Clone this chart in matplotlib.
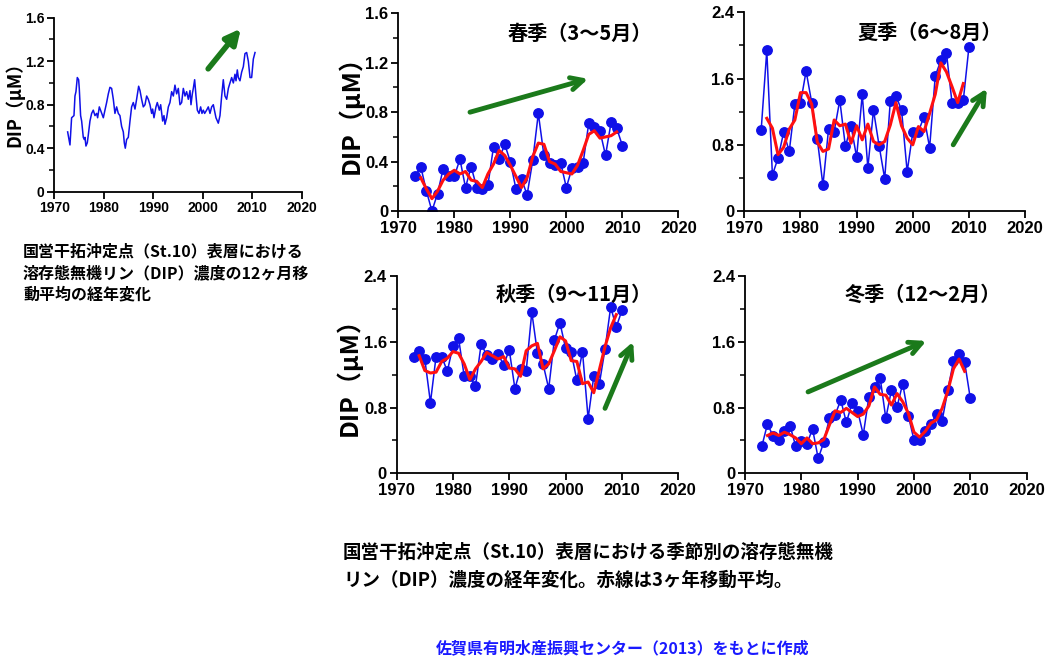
import matplotlib
matplotlib.use("Agg")
import matplotlib.pyplot as plt
from matplotlib.ticker import MultipleLocator

plt.rcParams['font.family'] = ['Liberation Sans', 'Noto Sans CJK JP', 'DejaVu Sans']
plt.rcParams['font.weight'] = 'bold'
JP = ['Noto Sans CJK JP', 'DejaVu Sans']

# 12-month running mean of DIP at St.10 (surface)
monthly_t = [1972.70, 1973.17, 1973.50, 1973.98, 1974.18, 1974.38, 1974.65, 1974.92,
             1975.05, 1975.32, 1975.53, 1975.86, 1976.06, 1976.20, 1976.40, 1976.67,
             1976.87, 1977.21, 1977.55, 1977.88, 1978.22, 1978.56, 1978.76, 1979.10,
             1979.43, 1979.91, 1980.24, 1980.58, 1980.92, 1981.25, 1981.59, 1981.93,
             1982.26, 1982.60, 1982.94, 1983.27, 1983.61, 1983.95, 1984.15, 1984.35,
             1984.62, 1984.96, 1985.30, 1985.63, 1985.97, 1986.31, 1986.64, 1987.05,
             1987.32, 1987.65, 1987.99, 1988.33, 1988.67, 1989.00, 1989.34, 1989.68,
             1989.88, 1990.15, 1990.55, 1990.82, 1991.23, 1991.50, 1991.90, 1992.17,
             1992.37, 1992.71, 1993.05, 1993.38, 1993.72, 1994.06, 1994.39, 1994.73,
             1995.07, 1995.40, 1995.74, 1996.08, 1996.42, 1996.75, 1997.09, 1997.43,
             1997.63, 1997.90, 1998.10, 1998.37, 1998.64, 1998.91, 1999.25, 1999.58,
             1999.85, 2000.12, 2000.39, 2000.79, 2001.13, 2001.47, 2001.81, 2002.14,
             2002.68, 2003.15, 2003.49, 2003.83, 2004.16, 2004.50, 2004.84, 2005.18,
             2005.51, 2005.85, 2006.19, 2006.52, 2006.73, 2006.99, 2007.20, 2007.53,
             2007.87, 2008.21, 2008.54, 2008.88, 2009.22, 2009.56, 2009.89, 2010.23,
             2010.57]
monthly_v = [0.55, 0.43, 0.68, 0.70, 0.88, 0.92, 1.05, 1.03,
             0.95, 0.70, 0.65, 0.50, 0.48, 0.50, 0.42, 0.45,
             0.52, 0.65, 0.72, 0.75, 0.70, 0.72, 0.68, 0.78,
             0.74, 0.68, 0.75, 0.82, 0.90, 0.96, 0.95, 0.85,
             0.72, 0.78, 0.72, 0.70, 0.60, 0.55, 0.45, 0.40,
             0.48, 0.50, 0.65, 0.78, 0.82, 0.76, 0.85, 0.97,
             0.93, 0.85, 0.78, 0.80, 0.88, 0.85, 0.80, 0.72,
             0.76, 0.68, 0.78, 0.82, 0.75, 0.80, 0.65, 0.70,
             0.62, 0.68, 0.78, 0.82, 0.92, 0.88, 0.98, 0.90,
             0.95, 0.80, 0.82, 0.95, 0.88, 0.92, 0.85, 0.93,
             0.80, 0.90, 0.95, 1.03, 0.88, 0.75, 0.72, 0.78,
             0.72, 0.75, 0.72, 0.75, 0.78, 0.72, 0.78, 0.80,
             0.68, 0.63, 0.70, 0.88, 1.03, 0.88, 0.85, 0.95,
             1.00, 1.05, 1.00, 1.08, 1.02, 1.12, 1.05, 1.02,
             1.10, 1.15, 1.27, 1.28, 1.20, 1.05, 1.05, 1.22,
             1.28]

years = list(range(1973, 2011))
ma_years = list(range(1974, 2010))

spring = [0.28, 0.36, 0.165, 0.0, 0.14, 0.34, 0.28, 0.28, 0.42, 0.19,
          0.36, 0.19, 0.18, 0.21, 0.52, 0.42, 0.54, 0.40, 0.18, 0.26,
          0.13, 0.41, 0.79, 0.45, 0.385, 0.37, 0.39, 0.19, 0.345, 0.36,
          0.39, 0.71, 0.68, 0.65, 0.45, 0.72, 0.67, 0.53]
spring_ma = [0.27, 0.18, 0.10, 0.16, 0.25, 0.30, 0.33, 0.30, 0.32, 0.25,
             0.24, 0.19, 0.30, 0.38, 0.49, 0.45, 0.37, 0.28, 0.19, 0.27,
             0.44, 0.55, 0.54, 0.40, 0.38, 0.32, 0.31, 0.30, 0.37, 0.49,
             0.62, 0.65, 0.59, 0.60, 0.61, 0.64]

summer = [0.98, 1.94, 0.435, 0.64, 0.95, 0.72, 1.29, 1.30, 1.69, 1.31,
          0.87, 0.31, 0.99, 0.96, 1.34, 0.78, 1.03, 0.65, 1.41, 0.52,
          1.22, 0.79, 0.39, 1.33, 1.39, 1.22, 0.475, 0.95, 0.96, 1.14,
          0.765, 1.63, 1.82, 1.91, 1.30, 1.30, 1.34, 1.98]
summer_ma = [1.12, 1.00, 0.68, 0.77, 0.99, 1.10, 1.43, 1.43, 1.29, 0.83,
             0.72, 0.75, 1.10, 1.03, 1.05, 0.82, 1.03, 0.86, 1.05, 0.84,
             0.80, 0.84, 1.04, 1.31, 1.03, 0.88, 0.80, 1.02, 0.96, 1.18,
             1.41, 1.79, 1.68, 1.50, 1.31, 1.54]

autumn = [1.42, 1.49, 1.39, 0.86, 1.42, 1.42, 1.24, 1.55, 1.64, 1.18,
          1.18, 1.06, 1.57, 1.44, 1.39, 1.45, 1.32, 1.50, 1.03, 1.27,
          1.24, 1.96, 1.46, 1.33, 1.03, 1.62, 1.83, 1.52, 1.47, 1.13,
          1.48, 0.665, 1.18, 1.09, 1.51, 2.02, 1.78, 1.98]
autumn_ma = [1.43, 1.25, 1.22, 1.23, 1.36, 1.40, 1.48, 1.46, 1.33, 1.14,
             1.27, 1.36, 1.47, 1.43, 1.39, 1.42, 1.28, 1.27, 1.18, 1.49,
             1.55, 1.58, 1.27, 1.33, 1.49, 1.66, 1.61, 1.37, 1.36, 1.09,
             1.11, 0.98, 1.26, 1.54, 1.77, 1.93]

winter = [0.33, 0.60, 0.45, 0.41, 0.51, 0.58, 0.33, 0.39, 0.36, 0.54,
          0.18, 0.38, 0.67, 0.71, 0.89, 0.62, 0.85, 0.76, 0.47, 0.93,
          1.05, 1.16, 0.67, 1.01, 0.81, 1.09, 0.70, 0.405, 0.405, 0.52,
          0.60, 0.72, 0.64, 1.01, 1.36, 1.45, 1.35, 0.91]
winter_ma = [0.46, 0.49, 0.46, 0.50, 0.47, 0.43, 0.36, 0.43, 0.36, 0.37,
             0.41, 0.59, 0.76, 0.74, 0.79, 0.74, 0.69, 0.72, 0.82, 1.05,
             0.96, 0.95, 0.83, 0.97, 0.87, 0.73, 0.50, 0.44, 0.51, 0.61,
             0.65, 0.79, 1.00, 1.27, 1.39, 1.24]

BLUE = '#1010e8'
GREEN = '#1b7a1b'


def style_axis(ax, ymax, ymajor, yminor, size):
    ax.set_xlim(1970, 2020)
    ax.set_ylim(0, ymax)
    ax.xaxis.set_major_locator(MultipleLocator(10))
    ax.yaxis.set_major_locator(MultipleLocator(ymajor))
    ax.yaxis.set_minor_locator(MultipleLocator(yminor))
    for s in ('top', 'right'):
        ax.spines[s].set_visible(False)
    for s in ('left', 'bottom'):
        ax.spines[s].set_linewidth(1.3)
    ax.tick_params(which='major', direction='out', length=5, width=1.3,
                   labelsize=size, pad=2)
    ax.tick_params(which='minor', direction='out', length=3.5, width=1.1)
    ax.yaxis.set_major_formatter(
        matplotlib.ticker.FuncFormatter(lambda v, p: '0' if v == 0 else f'{v:.1f}'))
    for lab in ax.get_xticklabels() + ax.get_yticklabels():
        lab.set_fontweight('bold')


fig = plt.figure(figsize=(10.46, 6.64), dpi=100)

# long-term 12-month running mean
ax0 = fig.add_axes([0.0519, 0.7113, 0.2365, 0.262])
ax0.plot(monthly_t, monthly_v, color=BLUE, lw=1.1)
style_axis(ax0, 1.6, 0.4, 0.2, 10)
ax0.text(-0.16, 0.53, 'DIP（μM）', transform=ax0.transAxes, rotation=90,
         ha='center', va='center', fontsize=13, fontweight='bold', family=JP)
ax0.annotate('', xy=(2007.7, 1.50), xytext=(2001.1, 1.13),
             arrowprops=dict(arrowstyle='-|>', lw=4, color=GREEN,
                             mutation_scale=22, shrinkA=0, shrinkB=0))

panels = [
    ([0.3808, 0.6822, 0.2677, 0.2977], spring, spring_ma, 1.6, 0.4, 0.2,
     '春季（3～5月）', (0.65, 0.90), True, ((1982.8, 0.80), (2003.9, 1.07))),
    ([0.7116, 0.6822, 0.2684, 0.2992], summer, summer_ma, 2.4, 0.8, 0.4,
     '夏季（6～8月）', (0.66, 0.90), False, ((2007.2, 0.80), (2013.2, 1.48))),
    ([0.3792, 0.2872, 0.2692, 0.2972], autumn, autumn_ma, 2.4, 0.8, 0.4,
     '秋季（9～11月）', (0.63, 0.905), True, ((2007.0, 0.79), (2012.0, 1.60))),
    ([0.7122, 0.2872, 0.2693, 0.2972], winter, winter_ma, 2.4, 0.8, 0.4,
     '冬季（12～2月）', (0.63, 0.905), False, ((1981.2, 0.99), (2002.2, 1.61))),
]

for rect, vals, ma, ymax, ymaj, ymin, title, tpos, ylab, arrow in panels:
    ax = fig.add_axes(rect)
    ax.plot(years, vals, color=BLUE, lw=1.1, marker='o', ms=6.8,
            markerfacecolor=BLUE, markeredgecolor=BLUE, zorder=2)
    ax.plot(ma_years, ma, color='#ff1010', lw=2.2, zorder=3)
    style_axis(ax, ymax, ymaj, ymin, 12)
    ax.text(tpos[0], tpos[1], title, transform=ax.transAxes, ha='center',
            va='center', fontsize=14.5, fontweight='bold', family=JP)
    if ylab:
        ax.text(-0.17, 0.52, 'DIP（μM）', transform=ax.transAxes, rotation=90,
                ha='center', va='center', fontsize=18, fontweight='bold',
                family=JP)
    (x0, y0), (x1, y1) = arrow
    ax.annotate('', xy=(x1, y1), xytext=(x0, y0),
                arrowprops=dict(arrowstyle='->', lw=3.5, color=GREEN,
                                mutation_scale=22, shrinkA=0, shrinkB=0))

fig.text(0.022, 0.633, '国営干拓沖定点（St.10）表層における\n'
         '溶存態無機リン（DIP）濃度の12ヶ月移\n動平均の経年変化',
         ha='left', va='top', fontsize=11.5, fontweight='bold', family=JP,
         linespacing=1.42)

fig.text(0.328, 0.183, '国営干拓沖定点（St.10）表層における季節別の溶存態無機\n'
         'リン（DIP）濃度の経年変化。赤線は3ヶ年移動平均。',
         ha='left', va='top', fontsize=13.3, fontweight='bold', family=JP,
         linespacing=1.6)

fig.text(0.417, 0.024, '佐賀県有明水産振興センター（2013）をもとに作成',
         ha='left', va='center', fontsize=11.5, fontweight='bold', family=JP,
         color='#1a1aff')

fig.savefig('out.png', dpi=100)
